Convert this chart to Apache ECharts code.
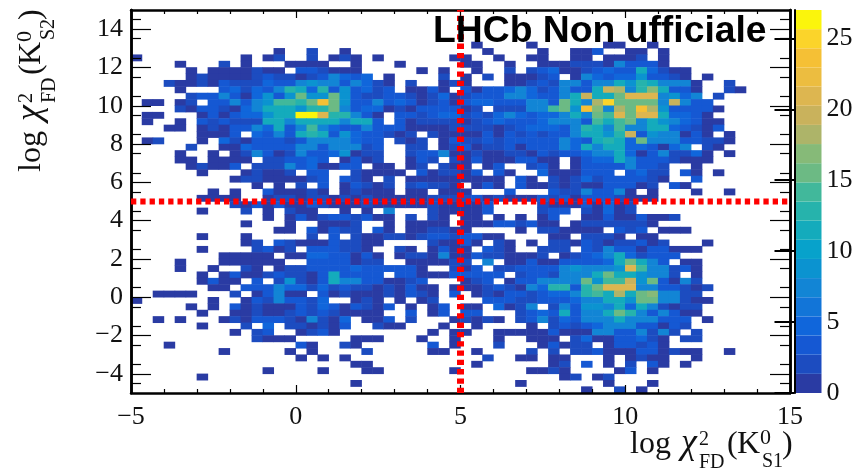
<!DOCTYPE html>
<html><head><meta charset="utf-8">
<style>html,body{margin:0;padding:0;background:#fff}#c{width:857px;height:470px}</style>
<script src="https://cdn.jsdelivr.net/npm/echarts@6/dist/echarts.min.js"></script>
</head><body><div id="c"></div>
<script>
const xTicks=[-5,0,5,10,15];
const yMajor=[-4,-2,0,2,4,6,8,10,12,14];
const yMinor=[-4.5,-3.5,-2.5,-1.5,-0.5,0.5,1.5,2.5,3.5,4.5,5.5,6.5,7.5,8.5,9.5,10.5,11.5,12.5,13.5,14.5];
const zTicks=[0,5,10,15,20,25];
const bandColors=['#2a3ba3','#1c4cc0','#1558d3','#1066db','#1275d8','#1285d5','#0b93d0','#07a2cb','#14abbc','#26b3ac','#41b89b','#6cba84','#86ba78','#adb469','#c9b25c','#ddb650','#ecbd40','#f5c035','#fbd42a','#fbf50c'];
// bin counts: each row (top to bottom) lists column,count pairs for non-empty bins
const binRows=[
[],[],[],[],[],
[31,1,36,1,43,1,44,1,47,1],
[13,1,16,2,19,1,32,1,37,1,40,1,41,1,42,3,45,1,46,1,48,1],
[0,1,10,1,12,1,13,2,16,2,18,1,19,2,20,1,22,1,29,1,30,1,33,1,36,1,37,1,40,1,41,1,43,1,44,1,45,1,46,2,48,1],
[4,1,8,2,10,1,14,1,15,1,16,1,17,1,20,1,24,1,30,1,31,1,34,1,37,1,38,1,39,1,40,2,41,2,42,2,43,1,44,7,45,3,46,3,47,3,48,1],
[5,1,7,1,8,1,9,1,10,1,11,2,12,1,13,1,15,3,16,3,17,2,18,1,19,1,20,1,26,1,28,1,31,1,34,2,36,2,37,3,38,5,39,1,40,1,41,2,42,3,43,5,44,3,45,3,46,11,47,5,48,2,49,1,50,1],
[5,1,6,2,7,1,8,1,9,1,10,1,11,2,12,3,13,2,14,2,15,1,16,2,17,3,18,8,19,5,20,3,21,5,23,1,28,2,30,1,32,2,34,1,35,1,36,1,37,2,38,3,40,1,41,7,42,5,43,3,44,5,45,5,46,9,47,3,48,3,49,2,50,1,52,1],
[3,2,4,1,5,1,6,2,7,1,8,3,9,2,10,2,11,2,12,5,13,3,14,3,15,7,16,9,17,8,18,7,19,3,20,7,21,5,22,2,23,1,25,2,28,1,29,2,30,1,34,1,35,1,36,2,37,3,38,2,39,7,40,7,41,3,42,8,43,7,44,11,45,9,46,13,47,11,48,7,49,7,50,7,51,1,54,2],
[4,1,8,3,9,5,10,2,11,5,12,3,13,8,14,13,15,11,16,5,17,13,18,3,19,9,20,3,21,5,22,2,23,3,25,1,26,1,27,3,28,1,30,3,31,1,32,3,33,3,34,5,35,7,36,5,37,2,38,3,39,7,40,3,41,3,42,11,43,20,44,18,45,7,46,13,47,17,48,11,49,3,50,3,51,1,54,2,55,1],
[5,2,6,3,7,3,8,7,9,3,10,1,11,5,12,9,13,3,14,9,15,16,16,9,17,9,18,15,19,9,20,3,21,2,22,2,23,3,24,3,25,2,26,1,27,2,28,5,29,1,30,2,31,3,32,3,33,3,34,7,35,7,36,5,37,3,38,3,39,7,40,11,41,20,42,11,43,11,44,15,45,21,46,21,47,21,48,8,49,9,50,5,51,7,53,2],
[1,1,2,1,4,1,5,2,7,3,8,3,9,7,10,3,11,7,12,9,13,14,14,14,15,13,16,16,17,23,18,15,19,9,20,3,21,3,22,7,23,3,24,5,25,3,26,1,27,2,28,3,29,1,30,3,31,5,32,5,33,3,34,3,35,3,36,7,37,7,38,3,39,15,40,11,41,7,42,18,43,25,44,16,45,15,46,16,47,16,48,8,49,20,50,7,51,3,52,3],
[4,2,5,1,6,3,7,3,8,2,9,1,10,5,11,8,12,11,13,11,14,11,15,9,16,13,17,13,18,15,19,7,20,3,21,5,22,5,23,1,24,2,25,1,26,3,27,3,28,3,29,3,30,1,31,2,33,2,34,2,35,2,36,7,37,7,38,14,39,16,40,9,41,24,42,17,43,8,44,18,45,15,46,23,47,18,48,9,49,3,50,3,51,3,52,3,53,1],
[1,1,2,1,6,1,7,3,8,1,9,3,10,5,11,5,12,9,13,11,14,11,15,27,16,27,17,21,18,13,19,13,20,8,21,3,22,1,24,3,25,3,26,2,27,3,28,5,29,5,30,2,31,3,32,2,33,5,34,7,35,5,36,3,37,5,38,5,39,7,40,11,41,8,42,16,43,14,44,21,45,15,46,21,47,21,48,11,49,5,50,5,51,3,52,1],
[1,1,4,1,6,3,7,2,8,3,9,2,10,2,11,2,12,11,13,11,14,8,15,11,16,11,17,11,18,11,19,8,20,11,21,11,22,3,24,3,25,1,26,2,27,2,28,2,29,2,30,1,31,2,32,3,33,5,34,3,35,3,36,3,37,5,38,8,39,7,40,8,41,3,42,14,43,11,44,14,45,16,46,7,47,11,48,9,49,7,50,5,51,3,52,1,53,1],
[3,1,4,1,6,1,7,2,8,1,9,3,10,3,11,7,12,5,13,11,14,3,15,7,16,14,17,7,18,5,19,3,20,3,21,8,22,3,23,3,24,3,25,1,26,1,27,1,28,1,29,2,30,2,31,2,32,2,33,1,34,2,35,3,36,5,37,5,38,5,39,3,40,7,41,13,42,11,43,7,44,14,45,8,46,7,47,11,48,11,49,5,50,3,51,2,52,1,53,3],
[6,1,7,1,8,1,9,3,11,5,12,3,13,7,14,3,15,11,16,13,17,11,18,3,19,9,20,5,21,3,22,3,23,2,24,1,25,2,27,2,28,1,29,1,30,1,31,1,32,3,33,1,34,3,35,2,36,3,37,2,38,3,39,3,40,7,41,11,42,11,43,9,44,13,45,20,46,3,47,9,48,8,49,7,50,1,51,3,52,1,54,1],
[1,1,2,2,6,1,8,5,9,2,10,1,11,3,12,3,13,3,14,2,15,3,16,7,17,7,18,7,19,7,20,5,21,3,22,3,24,2,25,1,26,2,28,1,29,3,30,2,31,2,32,3,33,2,34,3,35,3,36,3,37,3,38,3,39,7,40,5,41,3,42,11,43,13,44,11,45,5,46,15,47,8,48,8,49,8,50,3,51,3,52,2,53,2,54,1],
[5,2,8,1,9,1,10,5,11,3,12,3,13,3,14,3,15,8,16,7,17,3,18,7,19,8,20,7,21,2,22,3,25,2,26,2,28,1,29,2,30,3,31,1,32,2,33,2,34,3,35,1,36,3,37,3,38,3,39,7,40,5,41,11,42,8,43,11,44,11,45,5,46,5,47,3,48,1,49,5,50,7,52,2,53,1],
[4,1,7,1,9,1,10,2,11,7,12,3,13,1,14,2,15,8,16,3,17,3,18,5,19,9,20,1,21,2,22,2,25,2,26,3,27,3,28,7,29,1,30,1,31,2,32,1,33,1,34,2,35,2,36,1,37,3,38,2,39,3,40,3,41,5,42,8,43,8,44,11,45,5,46,1,47,3,48,7,49,2,50,2,51,5,52,1,54,1],
[4,1,5,1,7,1,8,1,9,1,10,1,12,2,13,2,14,3,15,3,16,5,17,3,19,1,20,3,21,1,22,2,25,1,26,3,27,2,29,2,30,1,31,3,32,1,33,1,34,1,35,3,36,3,37,1,38,1,40,1,41,3,42,5,43,5,44,11,45,7,46,3,47,3,48,3,49,2,50,1,51,1,52,1],
[5,1,6,2,7,1,8,1,9,3,11,2,12,2,13,2,14,7,15,3,16,5,17,1,18,1,19,3,20,3,22,1,23,1,25,1,26,2,28,2,29,1,30,1,32,1,33,3,36,2,37,3,38,1,40,1,41,3,42,3,43,3,44,3,45,7,46,3,47,3,48,2,51,1],
[6,1,10,1,11,2,12,1,13,1,14,2,16,3,17,3,20,2,21,1,22,1,23,1,24,1,26,3,27,1,28,2,29,2,30,1,31,3,33,3,34,1,37,5,38,1,39,1,40,1,41,3,42,3,43,3,45,3,46,5,47,2,48,2,50,3,51,1,53,1],
[9,1,10,2,11,2,12,1,13,1,14,1,15,1,16,2,17,3,19,3,20,2,21,1,23,2,25,1,26,1,27,1,28,1,29,1,30,1,31,1,32,1,33,1,35,3,36,1,38,2,39,1,40,2,41,5,42,2,43,3,44,3,45,3,46,3,47,2,48,1,51,3],
[11,1,13,1,15,2,17,3,19,1,20,3,21,2,22,1,23,2,25,2,26,3,27,2,28,2,29,1,31,1,32,3,33,1,35,3,36,1,37,1,38,2,39,1,40,2,41,1,42,1,43,3,44,3,45,3,46,1,47,2,49,3,50,1],
[7,1,9,1,12,3,13,1,14,1,15,1,16,2,17,1,19,1,20,2,21,1,22,1,23,1,25,1,26,1,28,1,29,1,30,1,34,3,38,3,39,2,40,2,41,7,42,3,43,3,44,8,45,1,47,1,51,1,54,1],
[6,1,7,1,8,1,9,1,12,1,13,2,14,2,15,1,16,2,17,2,18,1,19,2,20,1,21,2,22,1,23,1,24,1,25,1,26,1,27,2,28,2,29,2,30,2,31,3,32,1,33,2,34,1,35,1,36,1,37,3,38,2,39,3,40,1,41,3,42,3,43,3,44,2,45,1,46,1,47,1],
[9,2,10,1,11,3,12,1,13,3,14,1,15,1,16,3,17,2,18,1,19,1,20,1,21,2,22,1,23,1,24,1,25,1,26,1,27,2,28,1,29,1,30,1,31,1,32,3,37,2,38,1,39,1,40,1,41,3,42,1,43,5,44,1,45,2],
[6,1,10,2,12,1,14,2,15,1,16,1,19,1,21,1,23,7,27,2,28,1,29,1,30,1,31,1,32,3,37,2,38,3,39,3,41,2,42,1,43,5,44,1,45,2],
[12,1,14,1,15,3,16,1,17,2,18,3,19,3,20,2,21,3,22,1,23,1,25,2,27,2,28,1,30,1,31,1,33,1,35,1,37,1,38,3,41,1,42,1,43,3,44,1,45,1,46,3,47,1,48,1,49,2],
[10,1,14,1,17,1,18,1,19,1,20,2,23,1,25,1,26,1,27,1,28,1,30,1,31,1,32,1,33,3,34,3,35,2,36,3,37,1,38,1,40,1,41,2,42,2,43,2,44,2,45,2,46,2,47,1],
[13,1,14,1,16,3,17,1,18,3,19,2,20,2,22,3,23,1,25,1,26,1,27,2,28,2,29,1,30,1,35,1,37,2,38,2,39,1,40,1,41,1,42,1,44,3,45,2,46,3,48,1,49,1,50,1],
[6,1,10,1,16,2,18,3,20,2,21,1,22,1,23,2,24,2,25,1,26,2,27,3,28,3,29,2,30,3,31,3,32,1,33,1,38,1,39,1,41,2,42,2,43,2,44,1,46,1,47,1],
[10,1,11,2,13,3,14,2,15,1,16,1,17,1,18,3,19,2,20,2,21,1,22,1,27,2,28,1,29,1,30,3,31,1,33,2,34,1,36,1,38,2,39,2,40,1,41,3,42,2,43,1,44,2,45,2,46,3,47,1,48,2,52,1],
[6,1,11,2,12,3,13,1,14,2,16,3,17,3,18,3,19,2,20,2,21,1,24,2,25,1,27,1,28,3,29,1,30,1,32,3,33,2,34,1,37,2,38,2,39,2,41,3,42,2,43,7,44,3,45,3,46,1,47,3,48,3,49,1,50,1,51,1],
[8,1,9,1,10,1,11,1,12,1,14,1,15,1,16,5,17,5,18,3,19,3,20,1,21,3,22,1,24,1,25,2,26,2,27,1,28,7,29,1,30,1,31,3,32,2,33,2,34,1,35,1,36,1,37,2,39,1,40,2,41,3,42,5,43,8,44,11,45,5,46,2,47,3,48,3,49,3],
[4,1,8,1,9,1,10,1,11,1,12,1,13,1,16,3,17,3,18,3,19,3,20,1,21,2,22,2,25,1,26,1,27,1,28,1,29,2,30,2,32,7,34,1,35,1,36,3,37,1,38,1,39,3,40,3,41,3,42,3,43,5,44,11,45,15,46,11,47,7,48,3,50,1,51,1],
[4,1,7,1,10,2,11,1,13,1,14,2,15,2,16,3,17,3,18,3,19,3,20,5,21,3,22,3,23,3,24,3,25,3,26,1,29,2,30,1,31,3,33,2,34,2,35,3,36,3,37,3,38,3,39,7,40,9,41,7,42,7,43,8,44,9,45,21,46,14,47,8,48,8,49,2,50,3,51,1],
[6,1,8,1,9,3,10,1,11,1,12,2,13,3,14,2,15,2,16,1,17,3,18,11,19,3,20,3,21,3,22,3,24,3,25,3,26,1,27,1,28,1,29,3,30,3,31,3,32,3,33,3,35,2,36,3,37,3,38,2,39,7,40,8,41,7,42,11,43,15,44,11,45,11,46,9,47,8,48,7,49,2,51,1],
[6,1,7,3,8,1,9,1,11,3,13,2,14,9,15,2,16,1,17,3,18,11,19,7,20,7,21,3,22,3,23,1,24,1,25,2,26,3,30,1,31,2,32,3,34,1,35,3,36,3,37,7,38,7,39,7,40,8,41,16,42,9,43,14,44,14,45,20,46,9,47,16,48,3,49,1,50,8,51,2],
[7,1,8,1,10,3,11,3,12,3,13,8,14,5,15,5,16,2,17,5,18,2,19,3,20,2,21,2,22,1,23,2,24,1,25,3,26,1,27,1,29,1,30,1,31,1,32,2,33,3,34,2,35,1,36,7,37,5,38,13,39,13,40,3,41,13,42,16,43,21,44,21,45,21,46,7,47,7,48,3,49,3,50,2,51,1,52,2],
[2,1,3,1,4,1,5,1,9,2,11,1,12,3,13,8,14,1,15,1,17,3,18,1,19,2,20,1,21,1,22,1,23,2,24,1,25,3,26,2,27,1,29,3,31,1,32,2,33,1,34,3,35,3,36,2,37,3,38,5,39,5,40,7,41,13,42,14,43,11,44,18,45,11,46,16,47,17,48,8,49,8,50,2,51,2],
[0,1,7,1,10,1,11,3,12,2,13,8,14,3,15,3,16,2,17,5,20,1,21,2,22,1,24,1,26,1,27,2,32,3,33,3,34,3,35,2,36,2,37,3,38,3,39,3,40,5,41,7,42,7,43,11,44,11,45,9,46,16,47,15,48,8,49,8,50,2,51,1,52,1],
[5,1,7,1,9,3,10,1,11,2,12,1,13,1,14,1,15,3,16,2,17,5,18,3,19,1,20,3,21,2,22,1,23,3,25,1,27,1,28,3,30,1,31,1,33,5,34,1,35,2,36,7,38,2,39,7,40,3,41,9,42,9,43,7,44,11,45,5,46,11,47,8,48,2,49,1,50,2,51,2],
[6,1,9,1,10,1,11,2,12,1,13,1,14,2,15,3,16,2,17,3,18,2,19,1,20,1,21,1,22,1,25,3,27,1,28,3,30,3,31,3,35,2,36,3,37,5,38,3,39,11,40,3,41,8,42,8,43,11,44,15,45,13,46,7,47,3,48,8,49,3,50,1,51,1],
[2,1,4,1,8,1,9,2,10,1,11,3,12,3,13,3,14,2,15,1,16,7,17,2,18,1,19,5,21,1,22,1,23,3,25,2,29,1,30,2,31,1,32,2,33,1,35,2,36,3,37,7,38,2,39,5,40,3,41,8,42,7,43,7,44,11,45,8,46,7,47,7,48,3,49,3,50,3,52,1],
[6,1,10,2,12,5,14,2,15,2,16,1,17,2,18,1,19,3,22,2,23,1,24,1,28,1,31,1,36,1,38,2,39,3,40,2,41,3,42,5,43,8,44,7,45,7,46,3,47,3,48,1,49,3,50,2],
[9,1,11,2,12,3,15,1,16,2,17,3,18,1,27,1,29,1,30,1,33,1,34,1,35,1,36,1,37,1,38,3,39,1,40,1,41,1,42,8,43,7,44,3,45,3,46,7,47,2,48,8,49,2,51,2],
[11,2,12,1,13,1,14,1,20,1,21,1,22,1,26,1,29,1,33,1,36,1,37,1,38,1,40,2,41,5,42,1,43,1,44,3,45,3,46,5,47,2,48,1,50,2,51,2],
[3,1,15,3,16,1,19,2,20,1,27,3,29,1,33,2,37,1,38,3,39,1,40,2,41,2,43,1,44,3,45,3,46,2,47,3,48,1],
[8,1,14,1,16,1,21,2,27,1,28,1,31,1,36,2,38,2,40,2,41,2,42,3,43,1,44,1,45,1,46,3,47,3,48,1,49,2,50,1,51,1,54,1],
[15,1,17,1,19,1,32,2,35,1,36,1,38,1,39,1,43,1,45,1,46,2,47,1,48,1,51,1],
[20,1,21,1,31,1,38,1,39,2,41,3,43,1,45,2,47,3,48,1,50,1],
[12,1,17,1,21,1,22,1,29,1,36,1,37,1,38,2,39,1,44,1,45,3,47,1],
[6,1,39,1,40,2,42,1,43,2],
[20,1,35,1,43,1,47,1],
[41,1,44,2,46,1]
];
const titlePieces=[['log',0,0,32,''],['χ',51,0,36,'italic '],['2',69,-9,20,''],['FD',69,14,20,''],['(',97,0,32,''],['K',107,0,32,''],['0',130,-10,22,''],['S',132,13,20,''],[')',152,0,32,'']];
const zMax=27, nBins=60;

const binCats=Array.from({length:nBins},(_,i)=>i);
const heat=[];
binRows.forEach((row,r)=>{for(let k=0;k<row.length;k+=2)heat.push([row[k],nBins-1-r,row[k+1]]);});
const step=zMax/bandColors.length;
const bands=bandColors.map((c,i)=>[i*step,(i+1)*step,i]);
const pieces=bands.map((b,i)=>i===bands.length-1?{gte:b[0],lte:zMax+1,color:bandColors[i]}:{gte:b[0],lt:b[1],color:bandColors[i]});
const serif='"Liberation Serif"', lab=v=>String(v).replace('-','\u2212');
const line={show:true,onZero:false,lineStyle:{color:'#000',width:2.5}};
const hideCat={type:'category',data:binCats,show:false,boundaryGap:true};
const vx=(o)=>Object.assign({type:'value',min:-5,max:15,interval:5,gridIndex:0,z:5,splitLine:{show:false},axisLine:line,
  minorTick:{show:true,splitNumber:5,length:4,lineStyle:{color:'#000',width:1.2}},minorSplitLine:{show:false}},o);
const vy=(o,ticks,len,labels)=>Object.assign({type:'value',min:-5,max:15,gridIndex:0,z:5,splitLine:{show:false},axisLine:line,
  axisTick:{show:true,inside:true,length:len,customValues:ticks,lineStyle:{color:'#000',width:1.2}},
  axisLabel:labels?{show:true,customValues:ticks,formatter:lab,fontFamily:serif,fontSize:26,color:'#111',margin:8,padding:[4,0,0,0]}:{show:false}},o);
function titleGroup(x,y,rot,meson){
  return {type:'group',x,y,rotation:rot,z:50,children:titlePieces.map(t=>({type:'text',x:t[1],y:t[2]-t[3]*0.33,
    style:{text:t[0]==='S'?meson:t[0],font:t[4]+t[3]+'px '+serif,fill:'#111',verticalAlign:'middle'}}))};
}
const chart=echarts.init(document.getElementById('c'),null,{renderer:'canvas'});
chart.setOption({
  animation:false,
  backgroundColor:'#fff',
  grid:[{left:131,top:10,width:659,height:383,containLabel:false},{left:794.5,top:10,width:27,height:383}],
  xAxis:[hideCat,
    vx({position:'bottom',axisTick:{show:true,inside:true,length:8,lineStyle:{color:'#000',width:1.2}},
      axisLabel:{formatter:lab,fontFamily:serif,fontSize:26,color:'#111',margin:11,customValues:xTicks}}),
    vx({position:'top',axisTick:{show:true,inside:true,length:8,lineStyle:{color:'#000',width:1.2}},axisLabel:{show:false}}),
    {type:'value',gridIndex:1,min:0,max:1,show:false}],
  yAxis:[hideCat,
    vy({position:'left'},yMajor,20,true),
    vy({position:'right'},yMajor,20,false),
    vy({position:'left'},yMinor,10,false),
    vy({position:'right'},yMinor,10,false),
    {type:'value',gridIndex:1,min:0,max:zMax,position:'right',splitLine:{show:false},z:5,
     axisLine:{show:true,lineStyle:{color:'#000',width:2}},
     axisTick:{show:true,inside:true,length:20,customValues:zTicks,lineStyle:{color:'#000',width:2}},
     axisLabel:{customValues:zTicks,fontFamily:serif,fontSize:26,color:'#111',margin:5,padding:[4,0,0,0]}}],
  visualMap:{show:false,type:'piecewise',seriesIndex:0,dimension:2,pieces,outOfRange:{color:'#fff'}},
  series:[
    {type:'heatmap',xAxisIndex:0,yAxisIndex:0,data:heat,progressive:0,z:2,itemStyle:{borderWidth:0},emphasis:{disabled:true}},
    {type:'line',xAxisIndex:1,yAxisIndex:1,data:[[-5,5],[15,5]],symbol:'none',z:8,lineStyle:{color:'#f00',width:6,type:[5.3,4]}},
    {type:'line',xAxisIndex:1,yAxisIndex:1,data:[[5,-5],[5,15]],symbol:'none',z:8,lineStyle:{color:'#f00',width:7,type:[5.3,4]}},
    {type:'custom',xAxisIndex:3,yAxisIndex:5,data:bands,z:2,silent:true,encode:{y:[0,1]},
     renderItem(p,api){
       const a=api.coord([0,api.value(0)]),b=api.coord([1,api.value(1)]);
       return {type:'rect',shape:{x:a[0],y:b[1],width:b[0]-a[0],height:a[1]-b[1]},style:{fill:bandColors[api.value(2)]}};
     }}
  ],
  graphic:[
    {type:'text',x:433,y:13,z:60,style:{text:'LHCb Non ufficiale',font:'bold 37.3px "Liberation Sans"',fill:'#000'}},
    titleGroup(630,455,0,'S1'),
    titleGroup(42,172,Math.PI/2,'S2')
  ]
});
</script></body></html>
